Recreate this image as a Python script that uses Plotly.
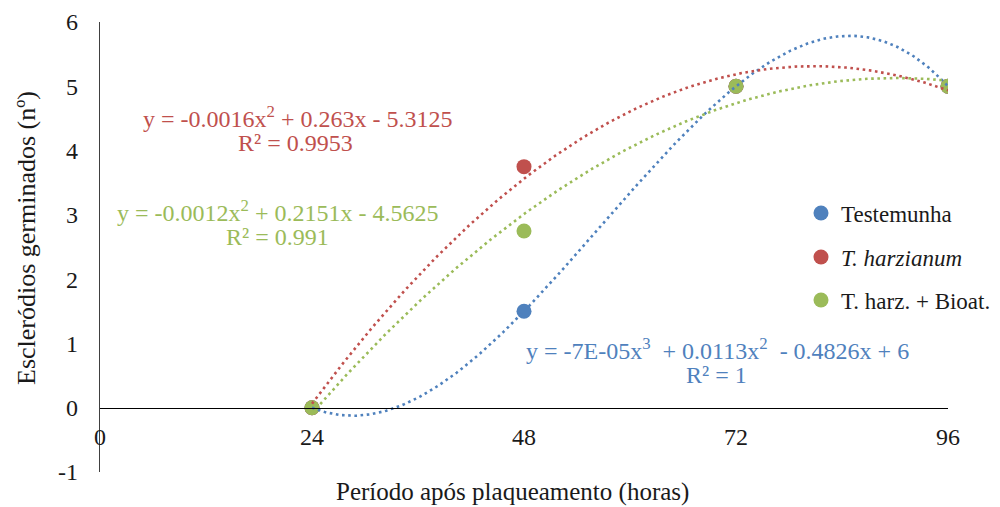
import numpy as np
import plotly.graph_objects as go

# ---- data ----
horas = [24, 48, 72, 96]
testemunha = [0, 1.5, 5, 5]
t_harzianum = [0, 3.75, 5, 5]
t_harz_bioat = [0, 2.75, 5, 5]

series_names = ["Testemunha", "<i>T. harzianum</i>", "T. harz. + Bioat."]
series_values = [testemunha, t_harzianum, t_harz_bioat]
trend_degree = [3, 2, 2]
colors = ["#4F81BD", "#C0504D", "#9BBB59"]

eq_texts = [
    "y = -7E-05x<sup>3</sup>  + 0.0113x<sup>2</sup>  - 0.4826x + 6",
    "y = -0.0016x<sup>2</sup> + 0.263x - 5.3125",
    "y = -0.0012x<sup>2</sup> + 0.2151x - 4.5625",
]
r2_texts = ["R² = 1", "R² = 0.9953", "R² = 0.991"]

x_ticks = [0, 24, 48, 72, 96]
y_ticks = [-1, 0, 1, 2, 3, 4, 5, 6]

FONT = "Liberation Serif"

fig = go.Figure()

# markers (legend)
legend_ids = ["legend", "legend2", "legend3"]
for name, vals, col, lg in zip(series_names, series_values, colors, legend_ids):
    fig.add_trace(go.Scatter(
        x=horas, y=vals, mode="markers", name=name,
        marker=dict(size=15, color=col),
        legend=lg, showlegend=True, hoverinfo="x+y"))

# polynomial trendlines fitted to the data (drawn over markers, like Excel)
xs = np.linspace(min(horas), max(horas), 300)
for vals, deg, col in zip(series_values, trend_degree, colors):
    coef = np.polyfit(horas, vals, deg)
    fig.add_trace(go.Scatter(
        x=xs, y=np.polyval(coef, xs), mode="lines", showlegend=False,
        line=dict(color=col, width=2.6, dash="2.6px,3.6px"),
        hoverinfo="skip"))

# page has an 8px body margin: screen pixel -> figure pixel
OFF = 8
W, H = 1000 - OFF, 507 - OFF
L, T = 100 - OFF, 22 - OFF
R = W - (948 - OFF)
B = H - (472 - OFF)
PW, PH = W - L - R, H - T - B

def px(xp):
    return (xp - OFF - L) / PW

def py(yp):
    return (H - B - (yp - OFF)) / PH

eq_pos = [(717, 349, 716, 375), (297, 117, 295, 143), (277, 211, 277, 237)]
for (ex, ey, rx, ry), eq, r2, col in zip(eq_pos, eq_texts, r2_texts, colors):
    fig.add_annotation(x=px(ex), y=py(ey), xref="paper", yref="paper",
                       text=eq, showarrow=False, xanchor="center", yanchor="middle",
                       font=dict(family=FONT, size=24, color=col))
    fig.add_annotation(x=px(rx), y=py(ry), xref="paper", yref="paper",
                       text=r2, showarrow=False, xanchor="center", yanchor="middle",
                       font=dict(family=FONT, size=24, color=col))

# axis titles
fig.add_annotation(x=px(512), y=py(492), xref="paper", yref="paper",
                   text="Período após plaqueamento (horas)", showarrow=False,
                   xanchor="center", yanchor="middle",
                   font=dict(family=FONT, size=25, color="#1a1a1a"))
fig.add_annotation(x=px(26), y=py(238), xref="paper", yref="paper",
                   text="Escleródios germinados (nº)", showarrow=False, textangle=-90,
                   xanchor="center", yanchor="middle",
                   font=dict(family=FONT, size=26, color="#1a1a1a"))

leg_common = dict(font=dict(family=FONT, size=23, color="#1a1a1a"),
                  bgcolor="rgba(0,0,0,0)", xanchor="left", yanchor="middle",
                  itemwidth=30)
fig.update_layout(
    font=dict(family=FONT),
    legend=dict(x=px(801), y=py(213), **leg_common),
    legend2=dict(x=px(801), y=py(257), **leg_common),
    legend3=dict(x=px(801), y=py(300), **leg_common),
)

fig.update_layout(
    width=W, height=H,
    margin=dict(l=L, r=R, t=T, b=B, autoexpand=False),
    plot_bgcolor="white", paper_bgcolor="white",
    xaxis=dict(range=[0, 96], tickvals=x_ticks, ticktext=[str(v) for v in x_ticks],
               showgrid=False, zeroline=False, showline=True, linecolor="#000000",
               linewidth=1.3, anchor="free", position=py(408),
               ticks="outside", ticklen=7, tickcolor="rgba(0,0,0,0)",
               tickfont=dict(family=FONT, size=24, color="#1a1a1a")),
    yaxis=dict(range=[-1, 6], tickvals=y_ticks, ticktext=[str(v) for v in y_ticks],
               showgrid=False, zeroline=False, showline=True, linecolor="#404040",
               linewidth=1.3, ticks="outside", ticklen=16, tickcolor="rgba(0,0,0,0)",
               tickfont=dict(family=FONT, size=24, color="#1a1a1a")),
)

fig.write_html("out.html")
